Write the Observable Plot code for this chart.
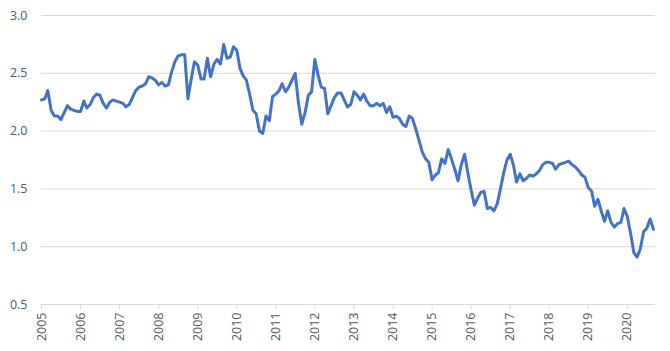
<!DOCTYPE html>
<html>
<head>
<meta charset="utf-8">
<script src="https://cdn.jsdelivr.net/npm/d3@7"></script>
<script src="https://cdn.jsdelivr.net/npm/@observablehq/plot@0.6"></script>
<style>
  html, body { margin: 0; padding: 0; background: #ffffff; }
  #chart { width: 670px; height: 351px; }
</style>
</head>
<body>
<div id="chart"></div>
<script>
// Monthly series, January 2005 onwards (one value per month)
const startYear = 2005;
const values = [
  // 2005
  2.27, 2.28, 2.35, 2.18, 2.13, 2.13, 2.10, 2.16, 2.22, 2.19, 2.18, 2.17,
  // 2006
  2.17, 2.26, 2.20, 2.23, 2.29, 2.32, 2.31, 2.24, 2.20, 2.25, 2.27, 2.26,
  // 2007
  2.25, 2.24, 2.21, 2.23, 2.29, 2.35, 2.38, 2.39, 2.41, 2.47, 2.46, 2.44,
  // 2008
  2.40, 2.42, 2.39, 2.40, 2.51, 2.60, 2.65, 2.66, 2.66, 2.28, 2.45, 2.60,
  // 2009
  2.57, 2.45, 2.45, 2.63, 2.47, 2.58, 2.62, 2.58, 2.75, 2.63, 2.64, 2.73,
  // 2010
  2.70, 2.54, 2.48, 2.44, 2.32, 2.18, 2.15, 2.00, 1.98, 2.13, 2.09, 2.30,
  // 2011
  2.32, 2.35, 2.41, 2.34, 2.38, 2.44, 2.50, 2.24, 2.06, 2.16, 2.31, 2.34,
  // 2012
  2.62, 2.48, 2.38, 2.37, 2.15, 2.22, 2.29, 2.33, 2.33, 2.27, 2.21, 2.23,
  // 2013
  2.34, 2.31, 2.27, 2.32, 2.26, 2.22, 2.22, 2.24, 2.22, 2.24, 2.16, 2.21,
  // 2014
  2.12, 2.13, 2.11, 2.06, 2.04, 2.13, 2.11, 2.02, 1.92, 1.82, 1.76, 1.73,
  // 2015
  1.58, 1.62, 1.64, 1.76, 1.72, 1.84, 1.76, 1.67, 1.57, 1.71, 1.80, 1.64,
  // 2016
  1.49, 1.36, 1.42, 1.47, 1.48, 1.33, 1.34, 1.31, 1.37, 1.50, 1.64, 1.75,
  // 2017
  1.80, 1.70, 1.56, 1.63, 1.57, 1.59, 1.62, 1.61, 1.63, 1.66, 1.71, 1.73,
  // 2018
  1.73, 1.72, 1.67, 1.71, 1.72, 1.73, 1.74, 1.71, 1.69, 1.66, 1.62, 1.60,
  // 2019
  1.51, 1.48, 1.35, 1.41, 1.31, 1.22, 1.31, 1.21, 1.17, 1.20, 1.21, 1.33,
  // 2020
  1.26, 1.11, 0.95, 0.91, 0.98, 1.13, 1.16, 1.24, 1.15
];
const yTicks = [0.5, 1.0, 1.5, 2.0, 2.5, 3.0];
const yearLabels = [2005, 2006, 2007, 2008, 2009, 2010, 2011, 2012, 2013, 2014, 2015, 2016, 2017, 2018, 2019, 2020];

const data = values.map((v, i) => ({ date: new Date(Date.UTC(startYear, i, 1)), value: v }));
const yearDates = yearLabels.map(y => new Date(Date.UTC(y, 0, 1)));

const chart = Plot.plot({
  width: 670,
  height: 351,
  marginLeft: 41,
  marginRight: 15,
  marginTop: 15,
  marginBottom: 47,
  style: { fontFamily: "'Open Sans', sans-serif", fontSize: "12.5px", color: "#595959", background: "#ffffff" },
  x: { type: "utc", domain: [new Date(Date.UTC(2005, 0, 1)), new Date(Date.UTC(2020, 8, 20))] },
  y: { domain: [0.5, 3.0] },
  marks: [
    Plot.gridY(yTicks, { stroke: "#d9d9d9", strokeOpacity: 1, strokeWidth: 1 }),
    Plot.axisY(yTicks, { tickSize: 0, tickPadding: 14, tickFormat: d => d.toFixed(1), fill: "#595959", label: null }),
    Plot.axisX(yearDates, { tickFormat: d => String(d.getUTCFullYear()), tickRotate: -90, tickSize: 5, tickPadding: 3, stroke: "#d9d9d9", fill: "#595959", label: null }),
    Plot.line(data, { x: "date", y: "value", stroke: "#4472C4", strokeWidth: 3, strokeLinejoin: "round", strokeLinecap: "round" })
  ]
});
document.getElementById("chart").appendChild(chart);
</script>
</body>
</html>
